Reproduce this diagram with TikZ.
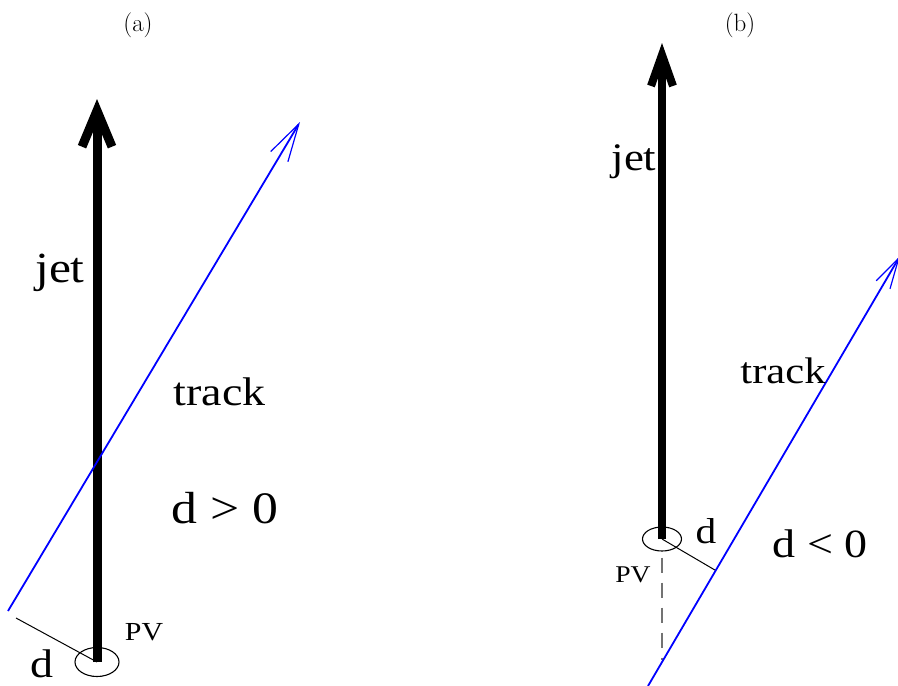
\documentclass[tikz,border=0pt]{standalone}
\usepackage{fontspec}
\newfontfamily\lblfont[FakeStretch=1.15]{Liberation Serif}
\usetikzlibrary{arrows.meta, shapes.geometric, calc}

\begin{document}
\begin{tikzpicture}[
    x=1pt, y=-1pt,
    lbl/.style={font={\lblfont\fontsize{#1}{#1}\selectfont}, inner sep=0pt, anchor=base},
    tag/.style={font={\fontsize{25}{25}\selectfont}, inner sep=0pt, anchor=base},
    vertex/.style={ellipse, draw, line width=1.1pt, inner sep=0pt},
    jetline/.style={line width=#1, line cap=butt},
    trackline/.style={draw=blue, line width=1.8pt},
    dline/.style={line width=1pt},
    dashline/.style={draw=black!55, line width=1.4pt, dash pattern=on 15pt off 10pt}
  ]
    \useasboundingbox (0,0) rectangle (898,686);

    % (a): d > 0
    \node[tag] (capA) at (138,31) {(a)};
    \node[vertex, minimum width=44pt, minimum height=29pt] (pvA) at (97,662) {};
    \coordinate (jetA) at (97,99);
    \coordinate (trkA0) at (8,611);
    \coordinate (trkA1) at (300,122);
    \coordinate (dA) at (16,618);
    \draw[dline] (dA) -- (pvA.center);
    \draw[jetline=9pt, -{Straight Barb[length=36pt, width=30pt]}] (pvA.center) -- (jetA);
    \draw[trackline, -{Straight Barb[length=38pt, width=20pt, line width=1.2pt]}] (trkA0) -- (trkA1);
    \node[lbl=43] (jetlblA) at (60,282) {jet};
    \node[lbl=40] (trklblA) at (219.5,405) {track};
    \node[lbl=45] (signA) at (225,523) {d > 0};
    \node[lbl=40] (dlblA) at (42,677) {d};
    \node[lbl=26] (pvlblA) at (144,640) {PV};

    % (b): d < 0
    \node[tag] (capB) at (740,31) {(b)};
    \node[vertex, minimum width=39pt, minimum height=24pt] (pvB) at (662,539) {};
    \coordinate (jetB) at (662,43);
    \coordinate (trkB0) at (648,686);
    \coordinate (trkB1) at (900,256);
    \coordinate (footB) at ($(trkB0)!(pvB.center)!(trkB1)$);
    \coordinate (crossB) at (662,660);
    \draw[dashline] ([yshift=-6pt]pvB.south) -- (crossB);
    \draw[dline] (pvB.center) -- (footB);
    \draw[jetline=8pt, -{Straight Barb[length=31pt, width=22pt]}] (pvB.center) -- (jetB);
    \draw[trackline, -{Straight Barb[length=31pt, width=16pt, line width=1.2pt]}] (trkB0) -- (trkB1);
    \node[lbl=39] (jetlblB) at (634,170) {jet};
    \node[lbl=37] (trklblB) at (783,383) {track};
    \node[lbl=40] (signB) at (820,557) {d < 0};
    \node[lbl=36] (dlblB) at (706,543) {d};
    \node[lbl=24] (pvlblB) at (633,582) {PV};
  \end{tikzpicture}
\end{document}
